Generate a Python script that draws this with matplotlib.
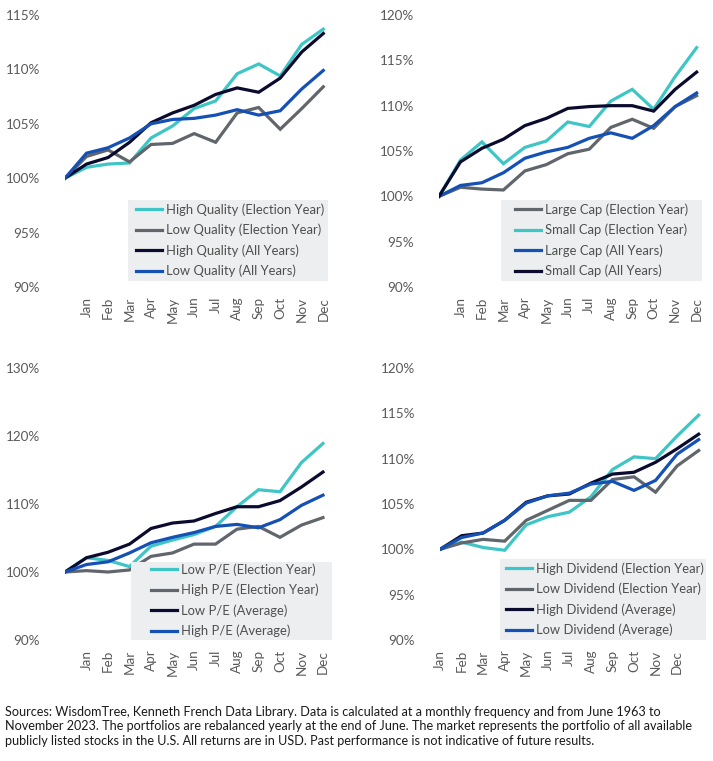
import matplotlib
matplotlib.use("Agg")
import matplotlib.pyplot as plt
from matplotlib.patches import Rectangle

plt.rcParams['font.family'] = ['Lato', 'DejaVu Sans']

W, H = 713, 761

months = ["Jan", "Feb", "Mar", "Apr", "May", "Jun", "Jul", "Aug", "Sep", "Oct", "Nov", "Dec"]

# Panel 1: Quality
hq_ey = [100, 101.0, 101.3, 101.4, 103.7, 104.8, 106.4, 107.1, 109.6, 110.5, 109.4, 112.3, 113.7]
lq_ey = [100, 102.0, 102.6, 101.5, 103.1, 103.2, 104.1, 103.3, 106.0, 106.5, 104.5, 106.4, 108.4]
hq_all = [100, 101.3, 101.9, 103.3, 105.1, 106.0, 106.7, 107.7, 108.3, 107.9, 109.2, 111.6, 113.3]
lq_all = [100, 102.3, 102.8, 103.7, 105.0, 105.4, 105.5, 105.8, 106.3, 105.8, 106.2, 108.2, 109.9]

# Panel 2: Size
lc_ey = [100, 101.0, 100.8, 100.7, 102.8, 103.5, 104.7, 105.2, 107.6, 108.5, 107.5, 109.9, 111.1]
sc_ey = [100, 104.0, 106.0, 103.6, 105.4, 106.1, 108.2, 107.7, 110.5, 111.8, 109.6, 113.2, 116.4]
lc_all = [100, 101.2, 101.5, 102.6, 104.2, 104.9, 105.4, 106.4, 107.0, 106.4, 107.8, 109.9, 111.4]
sc_all = [100, 103.8, 105.3, 106.3, 107.8, 108.6, 109.7, 109.9, 110.0, 110.0, 109.4, 111.8, 113.7]

# Panel 3: P/E
lpe_ey = [100, 102.1, 101.7, 100.8, 103.8, 104.7, 105.5, 106.7, 109.6, 112.1, 111.8, 116.1, 118.9]
hpe_ey = [100, 100.2, 100.0, 100.3, 102.3, 102.8, 104.1, 104.1, 106.3, 106.7, 105.1, 106.9, 108.0]
lpe_avg = [100, 102.1, 102.9, 104.1, 106.4, 107.2, 107.5, 108.6, 109.6, 109.6, 110.5, 112.5, 114.7]
hpe_avg = [100, 101.1, 101.5, 102.8, 104.3, 105.1, 105.8, 106.7, 107.0, 106.5, 107.7, 109.8, 111.3]

# Panel 4: Dividend
hd_ey = [100, 100.8, 100.2, 99.9, 102.7, 103.6, 104.1, 105.8, 108.8, 110.2, 110.0, 112.5, 114.8]
ld_ey = [100, 100.7, 101.1, 100.9, 103.2, 104.3, 105.4, 105.4, 107.7, 108.0, 106.3, 109.2, 110.9]
hd_avg = [100, 101.5, 101.8, 103.2, 105.2, 105.9, 106.1, 107.3, 108.3, 108.5, 109.6, 111.1, 112.7]
ld_avg = [100, 101.3, 101.8, 103.2, 105.1, 105.9, 106.2, 107.2, 107.5, 106.5, 107.6, 110.5, 112.1]

CYAN = '#3ec5c5'
GRAY = '#60666c'
NAVY = '#0b0b30'
BLUE = '#1550b5'
TXT = '#5a5a5a'

footer = ("Sources: WisdomTree, Kenneth French Data Library. Data is calculated at a monthly frequency and from June 1963 to\n"
          "November 2023. The portfolios are rebalanced yearly at the end of June. The market represents the portfolio of all available\n"
          "publicly listed stocks in the U.S. All returns are in USD. Past performance is not indicative of future results.")

fig = plt.figure(figsize=(W / 100, H / 100), dpi=100)


def make_ax(left, right, top, bottom):
    return fig.add_axes([left / W, 1 - bottom / H, (right - left) / W, (bottom - top) / H])


def panel(box, xmax, ylim, yticks, series, xlabels, xlabel_pos, legbg, leg_anchor):
    left, right, top, bottom = box
    ax = make_ax(*box)
    x = list(range(13))
    handles = []
    for vals, color, label in series:
        ln, = ax.plot(x, vals, color=color, lw=2.3, label=label, solid_joinstyle='miter')
        handles.append(ln)
    ax.set_xlim(0, xmax)
    ax.set_ylim(*ylim)
    ax.set_yticks(yticks)
    ax.set_yticklabels([f"{v}%" for v in yticks])
    ax.set_xticks(xlabel_pos)
    ax.set_xticklabels(xlabels, rotation=90)
    for s in ax.spines.values():
        s.set_visible(False)
    ax.tick_params(axis='y', length=0, pad=18, labelsize=9.7, labelcolor=TXT)
    ax.tick_params(axis='x', length=0, pad=7, labelsize=9.7, labelcolor=TXT)
    ax.patch.set_visible(False)

    def fx(px):
        return (px - left) / (right - left)

    def fy(py):
        return (bottom - py) / (bottom - top)

    bx0, bx1, by0, by1 = legbg
    ax.add_patch(Rectangle((fx(bx0), fy(by1)), fx(bx1) - fx(bx0), fy(by0) - fy(by1),
                           transform=ax.transAxes, facecolor='#eceef0', edgecolor='none',
                           zorder=4, clip_on=False))
    hx, ry = leg_anchor
    leg = ax.legend(handles=handles, loc='upper left', bbox_to_anchor=(fx(hx), fy(ry - 7)),
                    borderaxespad=0, frameon=False, fontsize=9.4,
                    handlelength=2.0, handletextpad=0.3, labelspacing=0.62, borderpad=0,
                    labelcolor='#4f4f4f')
    leg.set_zorder(5)
    return ax


b1 = (65, 328, 15, 287)
panel(b1, 12.22, (90, 115), [90, 95, 100, 105, 110, 115],
      [(hq_ey, CYAN, "High Quality (Election Year)"),
       (lq_ey, GRAY, "Low Quality (Election Year)"),
       (hq_all, NAVY, "High Quality (All Years)"),
       (lq_all, BLUE, "Low Quality (All Years)")],
      months, list(range(1, 13)), (128, 328, 200, 281), (136, 210))

b2 = (439, 702, 15, 287)
panel(b2, 12.25, (90, 120), [90, 95, 100, 105, 110, 115, 120],
      [(lc_ey, GRAY, "Large Cap (Election Year)"),
       (sc_ey, CYAN, "Small Cap (Election Year)"),
       (lc_all, BLUE, "Large Cap (All Years)"),
       (sc_all, NAVY, "Small Cap (All Years)")],
      months, list(range(1, 13)), (501, 702, 200, 281), (515, 210))

b3 = (65, 332, 368, 640)
panel(b3, 12.42, (90, 130), [90, 100, 110, 120, 130],
      [(lpe_ey, CYAN, "Low P/E (Election Year)"),
       (hpe_ey, GRAY, "High P/E (Election Year)"),
       (lpe_avg, NAVY, "Low P/E (Average)"),
       (hpe_avg, BLUE, "High P/E (Average)")],
      months, list(range(1, 13)), (131, 332, 562, 640), (151, 570))

b4 = (440, 706, 368, 640)
panel(b4, 12.34, (90, 120), [90, 95, 100, 105, 110, 115, 120],
      [(hd_ey, CYAN, "High Dividend (Election Year)"),
       (ld_ey, GRAY, "Low Dividend (Election Year)"),
       (hd_avg, NAVY, "High Dividend (Average)"),
       (ld_avg, BLUE, "Low Dividend (Average)")],
      months, list(range(0, 12)), (500, 706, 559, 640), (506, 569))

fig.text(5 / W, 1 - 706 / H, footer, ha='left', va='top', fontsize=9.1, color='#1a1a1a',
         linespacing=1.25)

fig.savefig("out.png", dpi=100)
